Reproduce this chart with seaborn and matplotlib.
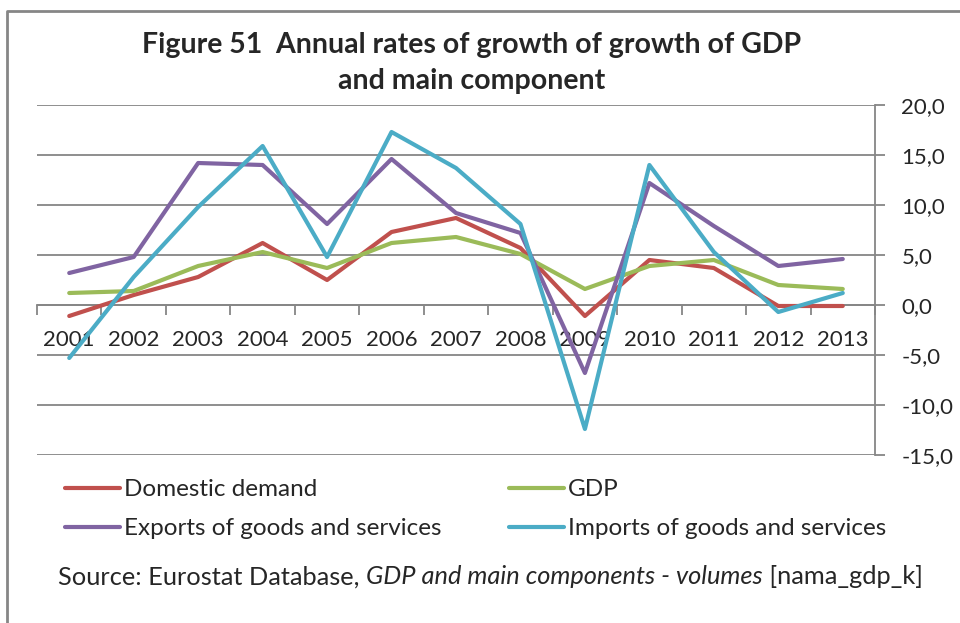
import matplotlib
matplotlib.use("Agg")
import matplotlib.pyplot as plt
import seaborn as sns
import pandas as pd
from matplotlib.lines import Line2D
from matplotlib.ticker import FixedLocator, FuncFormatter

years = ["2001", "2002", "2003", "2004", "2005", "2006", "2007",
         "2008", "2009", "2010", "2011", "2012", "2013"]
domestic_demand = [-1.1, 1.0, 2.8, 6.2, 2.5, 7.3, 8.7, 5.7, -1.1, 4.5, 3.7, -0.1, -0.1]
gdp = [1.2, 1.4, 3.9, 5.3, 3.7, 6.2, 6.8, 5.1, 1.6, 3.9, 4.5, 2.0, 1.6]
exports = [3.2, 4.8, 14.2, 14.0, 8.1, 14.6, 9.2, 7.2, -6.8, 12.2, 7.9, 3.9, 4.6]
imports = [-5.3, 2.8, 9.8, 15.9, 4.8, 17.3, 13.7, 8.1, -12.4, 14.0, 5.3, -0.7, 1.2]
series_names = ["Domestic demand", "GDP", "Exports of goods and services",
                "Imports of goods and services"]
y_ticks = [-15, -10, -5, 0, 5, 10, 15, 20]

colors = {"Domestic demand": "#C0504D", "GDP": "#9BBB59",
          "Exports of goods and services": "#8064A2",
          "Imports of goods and services": "#4BACC6"}

rows = []
for name, vals in zip(series_names, [domestic_demand, gdp, exports, imports]):
    for i, (yr, v) in enumerate(zip(years, vals)):
        rows.append({"idx": i, "year": yr, "value": v, "series": name})
df = pd.DataFrame(rows)

sns.set_theme(style="white")
plt.rcParams["font.family"] = ["Lato", "DejaVu Sans"]

fig = plt.figure(figsize=(9.6, 6.23), dpi=100)
ax = fig.add_axes([37/960, 1-455/623, (875-37)/960, 350/623])

grid_c = "#868686"
sns.lineplot(data=df, x="idx", y="value", hue="series", palette=colors,
             hue_order=series_names, linewidth=3.0, ax=ax, legend=False,
             zorder=3)

ax.set_xlim(-0.5, 12.5)
ax.set_ylim(-15, 20)
ax.yaxis.tick_right()
ax.set_yticks(y_ticks)
ax.yaxis.set_major_formatter(FuncFormatter(lambda v, p: f"{v:.1f}".replace(".", ",")))
ax.yaxis.grid(True, color=grid_c, linewidth=1.3)
ax.tick_params(axis="y", which="major", length=7, width=1.3, color=grid_c,
               labelsize=16, pad=12, direction="out", right=True, left=False)

ax.spines["top"].set_visible(False)
ax.spines["left"].set_visible(False)
ax.spines["right"].set_color(grid_c)
ax.spines["right"].set_linewidth(1.3)
ax.spines["bottom"].set_position(("data", 0))
ax.spines["bottom"].set_color(grid_c)
ax.spines["bottom"].set_linewidth(1.3)

ax.set_xticks(range(len(years)))
ax.set_xticklabels(years)
ax.xaxis.set_minor_locator(FixedLocator([i - 0.5 for i in range(len(years) + 1)]))
ax.tick_params(axis="x", which="major", length=0, labelsize=16, pad=18,
               bottom=True)
ax.tick_params(axis="x", which="minor", length=7, width=1.3, color=grid_c,
               direction="out", bottom=True)
ax.set_xlabel("")
ax.set_ylabel("")
ax.set_axisbelow(True)

fig.text(472/960, 1-45/623, "Figure 51  Annual rates of growth of growth of GDP",
         ha="center", va="center", fontsize=20.5, fontweight="bold")
fig.text(472/960, 1-81/623, "and main component",
         ha="center", va="center", fontsize=20.5, fontweight="bold")

handles = [Line2D([0], [0], color=colors[n], linewidth=3.0) for n in series_names]
order = [0, 2, 1, 3]
leg = fig.legend([handles[i] for i in order], [series_names[i] for i in order],
                 ncol=2, loc="upper left", bbox_to_anchor=(65/960, 1-479/623),
                 frameon=False, fontsize=17.5, handlelength=2.25,
                 handletextpad=0.16, columnspacing=2.8, labelspacing=0.75,
                 borderaxespad=0, borderpad=0)

src_y = 1-577/623
t0 = fig.text(58/960, src_y, "Source: Eurostat Database, ", fontsize=18.3,
              ha="left", va="center")
fig.canvas.draw()
r = fig.canvas.get_renderer()
x1 = t0.get_window_extent(r).x1 / fig.bbox.width
t_it = fig.text(x1, src_y, "GDP and main components - volumes",
                fontsize=18.3, style="italic", ha="left", va="center")
x2 = t_it.get_window_extent(r).x1 / fig.bbox.width
fig.text(x2, src_y, " [nama_gdp_k]", fontsize=18.3, ha="left", va="center")

fig.add_artist(Line2D([7/960, 7/960, 1.0], [0, 1-11/623, 1-11/623],
                      transform=fig.transFigure, color=grid_c, linewidth=2))

fig.savefig("out.png", dpi=100)
